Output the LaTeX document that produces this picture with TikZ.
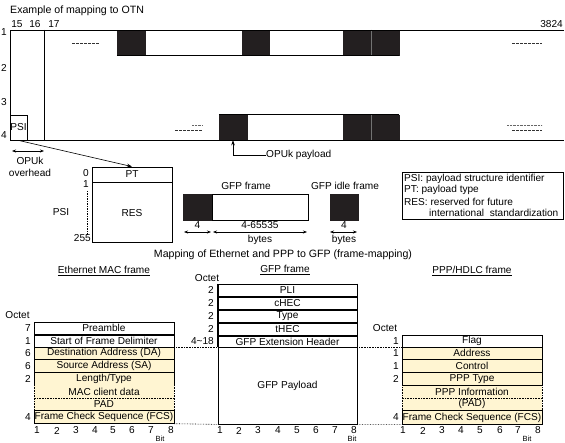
\documentclass[tikz,border=0pt]{standalone}
\usepackage{fontspec}
\setmainfont{Liberation Sans}
\usetikzlibrary{arrows.meta}
\definecolor{cream}{HTML}{FFF5D2}
\definecolor{blk}{HTML}{231F20}
\begin{document}
\begin{tikzpicture}[x=1pt,y=-1pt,
  every node/.style={font=\fontsize{10.1}{11}\selectfont, inner sep=0pt},
  bigtxt/.style={font=\fontsize{10.6}{11}\selectfont},
  bitlbl/.style={font=\fontsize{7.5}{8}\selectfont},
  blackblk/.style={fill=blk, draw=blk, line width=0.5pt},
  rowbox/.style={draw, line width=0.8pt, minimum width=140pt, anchor=center},
  dimarrow/.style={{Stealth[length=4pt,width=3pt]}-{Stealth[length=4pt,width=3pt]}, line width=0.6pt},
  dotsep/.style={densely dotted, line width=0.6pt},
  dashmark/.style={dash pattern=on 2.5pt off 1.5pt, line width=0.6pt, black!80},
  finedot/.style={dash pattern=on 0.8pt off 0.6pt, line width=0.4pt, black!60},
  pointer/.style={-{Stealth[length=5pt,width=3.5pt]}, line width=0.6pt}]
\useasboundingbox (0,0) rectangle (565,443);
% ---------- top: OTN ----------
\node[anchor=west, bigtxt] (title) at (10,11) {Example of mapping to OTN};
\node (c15) at (17,24) {15};
\node (c16) at (35,24) {16};
\node (c17) at (54,24) {17};
\node[anchor=east] (c3824) at (563,24) {3824};
\node (r1) at (4,32) {1};
\node (r2) at (4,68) {2};
\node (r3) at (4,102) {3};
\node (r4) at (4,135) {4};
% black/white blocks
\node[blackblk, minimum width=28pt, minimum height=25pt] (b1) at (131,42.5) {};
\node[blackblk, minimum width=27pt, minimum height=25pt] (b2) at (255.5,42.5) {};
\node[blackblk, minimum width=56pt, minimum height=25pt] (b3) at (371,42.5) {};
\node[blackblk, minimum width=28pt, minimum height=25pt] (b4) at (233,127.5) {};
\node[blackblk, minimum width=56pt, minimum height=25pt] (b5) at (371,127.5) {};
\draw[line width=0.8pt] (b1.south west) -- (b3.south east);
\draw[line width=0.8pt] (b4.north west) -- (b5.north east);
\draw[black!55, line width=0.4pt] (b3.north) -- (b3.south) (b5.north) -- (b5.south);
% frame
\coordinate (ftl) at (10,30);
\coordinate (fbl) at (10,140);
\draw[line width=0.8pt] (564,30) -- (ftl) -- (fbl) -- (564,140);
\draw[line width=0.8pt] (44,30) -- (44,140);
\node[draw, line width=0.8pt, minimum width=17pt, minimum height=25pt] (psibox) at (18.5,127.5) {PSI};
% dashes
\draw[dashmark] (72,43) -- (100,43);
\draw[dashmark] (512,43) -- (542,43);
\draw[dashmark] (175,130) -- (202,130);
\draw[finedot] (192,125) -- (202,125);
\draw[finedot] (507,125) -- (542,125);
\draw[dashmark] (512,130) -- (542,130);
% OPUk overhead
\coordinate (ohl) at (12,151);
\coordinate (ohr) at (44,151);
\draw[dimarrow] (ohl) -- (ohr);
\node[align=center] (ohlbl) at (30,167) {OPUk\\[1pt]overhead};
% OPUk payload
\node[anchor=west] (opl) at (266,155) {OPUk payload};
\draw[pointer] (opl.west) -- (233,155) -- (b4.south);
% ---------- PSI structure ----------
\node[draw, line width=0.8pt, minimum width=80pt, minimum height=15pt] (pt) at (132,174.5) {PT};
\node[draw, line width=0.8pt, minimum width=80pt, minimum height=60pt, anchor=north] (res) at (pt.south) {RES};
\draw[pointer] (psibox.south) -- (pt.north);
\node[anchor=east] (o0) at (89,173) {0};
\node[anchor=east] (o1) at (89,184) {1};
\node[anchor=east] (o255) at (91,238) {255};
\draw[dash pattern=on 1.5pt off 1pt, line width=0.5pt] (87,191) -- (87,235);
\node (psilbl) at (61,212) {PSI};
% ---------- GFP frame strip ----------
\node (gfplbl) at (246,186) {GFP frame};
\node (idlelbl) at (345,186) {GFP idle frame};
\node[blackblk, minimum width=29pt, minimum height=26pt] (gh) at (197.5,207) {};
\node[draw, line width=0.8pt, minimum width=96pt, minimum height=26pt, anchor=west] (gp) at (gh.east) {};
\node[blackblk, minimum width=28pt, minimum height=26pt] (gi) at (344,207) {};
\coordinate (a1) at (184,232); \coordinate (a2) at (211,232);
\coordinate (a3) at (213,232); \coordinate (a4) at (307,232);
\coordinate (a5) at (330,232); \coordinate (a6) at (357,232);
\draw[dimarrow] (a1) -- (a2);
\draw[dimarrow] (a3) -- (a4);
\draw[dimarrow] (a5) -- (a6);
\node (d1) at (197.5,225.5) {4};
\node (d2) at (260,225.5) {4-65535};
\node (d2b) at (260,239.5) {bytes};
\node (d3) at (344,225.5) {4};
\node (d3b) at (344,239.5) {bytes};
% legend
\node[draw, line width=0.8pt, minimum width=161pt, minimum height=47pt, anchor=north west] (legend) at (402,172) {};
\node[anchor=west] (lg1) at (404,178.5) {PSI: payload structure identifier};
\node[anchor=west] (lg2) at (404,190) {PT: payload type};
\node[anchor=west] (lg3) at (404,201.5) {RES: reserved for future};
\node[anchor=west] (lg4) at (429,213) {international\ \ standardization};
% caption
\node[bigtxt] (cap) at (283,254.5) {Mapping of Ethernet and PPP to GFP (frame-mapping)};
% ---------- Ethernet MAC frame ----------
\node (ethT) at (104,271) {\underline{Ethernet MAC frame}};
\node (ethO) at (17.5,315) {Octet};
\node[rowbox, fill=white, minimum height=12pt] (pre) at (104,328) {Preamble};
\node[rowbox, fill=white, minimum height=12pt] (sfd) at (104,341) {Start of Frame Delimiter};
\node[rowbox, fill=cream, minimum height=12.5pt] (da) at (104,353.2) {Destination Address (DA)};
\node[rowbox, fill=cream, minimum height=13pt] (sa) at (104,366) {Source Address (SA)};
\node[rowbox, fill=cream, minimum height=12.8pt] (lt) at (104,378.9) {Length/Type};
\node[minimum width=140pt, minimum height=12.4pt, fill=cream] (mac) at (104,391.5) {MAC client data};
\node[minimum width=140pt, minimum height=13pt, fill=cream] (pad) at (104,404.2) {PAD};
\node[rowbox, fill=cream, minimum height=12.6pt] (fcs) at (104,417) {Frame Check Sequence (FCS)};
\draw[dotsep] (mac.north west) -- (pad.south west);
\draw[dotsep] (mac.north east) -- (pad.south east);
\draw[dotsep] (mac.south west) -- (mac.south east);
\foreach \n/\y in {7/328,1/341,6/353,6/366,2/379,4/417}
  \node[anchor=east] at (31,\y) {\n};
\foreach \b/\x in {1/37,2/57,3/76,4/95,5/113,6/132,7/151,8/171}
  \node at (\x,430.5) {\b};
\node[bitlbl] (ethB) at (160,438.5) {Bit};
% ---------- GFP frame ----------
\node (gfpT) at (285,270) {\underline{GFP frame}};
\node (gfpO) at (207,278) {Octet};
\node[rowbox, minimum width=139pt, minimum height=12pt] (pli) at (287.5,290) {PLI};
\node[rowbox, minimum width=139pt, minimum height=12pt] (chec) at (287.5,303) {cHEC};
\node[rowbox, minimum width=139pt, minimum height=12pt] (type) at (287.5,316) {Type};
\node[rowbox, minimum width=139pt, minimum height=12pt] (thec) at (287.5,329) {tHEC};
\node[rowbox, minimum width=139pt, minimum height=11pt] (ext) at (287.5,341.5) {GFP Extension Header};
\node[rowbox, minimum width=139pt, minimum height=77pt] (payload) at (287.5,385.5) {GFP Payload};
\draw[line width=0.8pt] (pli.north west) -- (payload.north west);
\draw[line width=0.8pt] (pli.north east) -- (payload.north east);
\foreach \n/\y in {2/290,2/303,2/316,2/329,4\textasciitilde18/341}
  \node[anchor=east] at (214,\y) {\n};
\foreach \b/\x in {1/220,2/239,3/258,4/278,5/297,6/316,7/335,8/354}
  \node at (\x,430.5) {\b};
\node[bitlbl] (gfpB) at (352,438.5) {Bit};
% ---------- PPP/HDLC frame ----------
\node (pppT) at (472,271) {\underline{PPP/HDLC frame}};
\node (pppO) at (385,328) {Octet};
\node[rowbox, fill=white, minimum height=12pt] (flag) at (472,341) {Flag};
\node[rowbox, fill=cream, minimum height=12.3pt] (addr) at (472,353.2) {Address};
\node[rowbox, fill=cream, minimum height=13pt] (ctrl) at (472,365.8) {Control};
\node[rowbox, fill=cream, minimum height=13.4pt] (ptype) at (472,379) {PPP Type};
\node[minimum width=140pt, minimum height=12pt, fill=cream] (pinfo) at (472,391.7) {PPP Information};
\node[minimum width=140pt, minimum height=13pt, fill=cream] (ppad) at (472,404.2) {(PAD)};
\node[rowbox, fill=cream, minimum height=13.3pt] (pfcs) at (472,417.4) {Frame Check Sequence (FCS)};
\draw[dotsep] (pinfo.north west) -- (ppad.south west);
\draw[dotsep] (pinfo.north east) -- (ppad.south east);
\draw[dotsep] (pinfo.south west) -- (pinfo.south east);
\foreach \n/\y in {1/341,1/353,1/366,2/379,4/417}
  \node[anchor=east] at (399,\y) {\n};
\foreach \b/\x in {1/403,2/423,3/442,4/461,5/480,6/500,7/518,8/538}
  \node at (\x,430.5) {\b};
\node[bitlbl] (pppB) at (527,438.5) {Bit};
% ---------- dotted alignment lines ----------
\draw[dotsep] (sfd.south east) -- (ext.south west);
\draw[dotsep] (ext.south east) -- (flag.south west);
\draw[dotsep] (fcs.south east) -- (payload.south west);
\draw[dotsep] (payload.south east) -- (pfcs.south west);
\end{tikzpicture}
\end{document}
